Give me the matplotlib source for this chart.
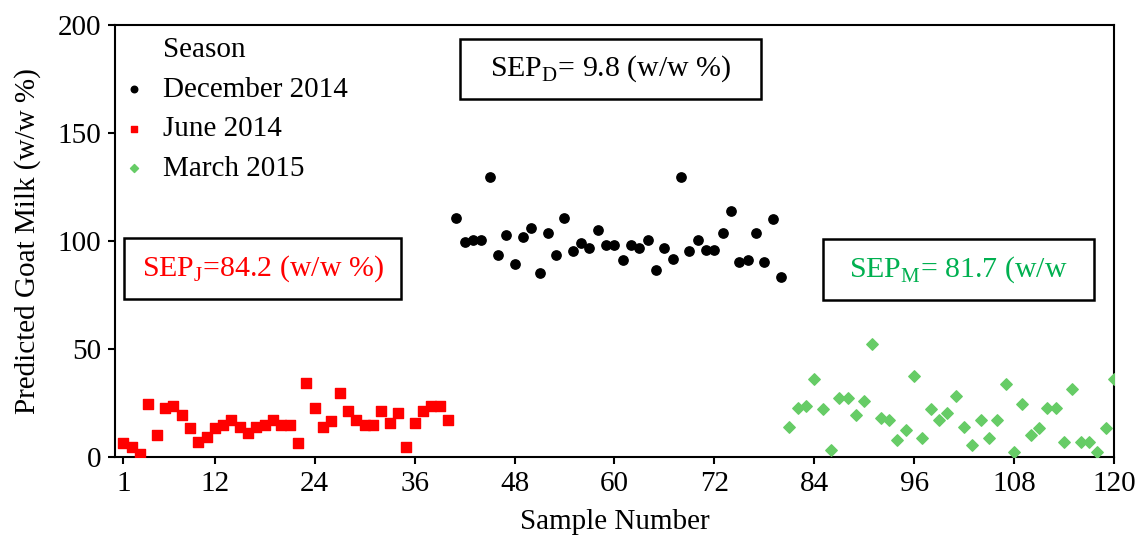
"""Predicted goat milk per sample, coloured by season, with SEP boxes."""

import matplotlib

matplotlib.use("Agg")
import matplotlib.pyplot as plt
from matplotlib.lines import Line2D
from matplotlib.patches import Rectangle

plt.rcParams["font.family"] = ["Liberation Serif", "DejaVu Serif"]
plt.rcParams["mathtext.fontset"] = "custom"
plt.rcParams["mathtext.rm"] = "Liberation Serif"

# June 2014 (samples 1-40)
june_x = list(range(1, 41))
june_y = [6.2, 4.6, 1.1, 24.2, 10.0, 22.7, 23.5, 19.5, 13.3, 7.0,
          9.3, 13.3, 14.7, 17.1, 13.9, 10.8, 13.9, 14.7, 17.1, 14.7,
          14.7, 6.2, 34.3, 22.7, 13.9, 16.4, 29.6, 21.0, 17.1, 14.7,
          14.7, 21.0, 15.6, 20.4, 4.6, 15.6, 21.0, 23.5, 23.5, 17.1]

# December 2014 (samples 41-80)
dec_x = list(range(41, 81))
dec_y = [110.6, 99.7, 100.5, 100.5, 129.4, 93.4, 102.8, 89.5, 102.0, 105.9,
         84.9, 103.7, 93.4, 110.6, 95.1, 98.9, 96.6, 105.1, 98.1, 98.1,
         91.1, 98.1, 96.6, 100.5, 86.4, 96.6, 91.8, 129.4, 95.1, 100.5,
         95.8, 95.8, 103.7, 113.9, 90.3, 91.1, 103.7, 90.3, 109.9, 83.3]

# March 2015 (samples 81-120)
mar_x = list(range(81, 121))
mar_y = [13.9, 22.7, 23.5, 35.8, 21.9, 3.1, 27.3, 27.3, 19.5, 25.8,
         52.3, 17.9, 17.1, 7.7, 12.5, 37.5, 8.7, 21.9, 17.1, 20.4,
         28.1, 13.9, 5.3, 17.1, 8.7, 17.1, 33.7, 2.3, 24.2, 10.0,
         13.1, 22.7, 22.7, 6.9, 31.2, 6.9, 6.9, 2.3, 13.3, 36.0]

x_ticks = [1, 12, 24, 36, 48, 60, 72, 84, 96, 108, 120]
y_ticks = [0, 50, 100, 150, 200]

FS = 21

fig = plt.figure(figsize=(11.46, 5.41), dpi=100)
ax = fig.add_axes([0.1003, 0.1558, 0.8717, 0.798])

ax.scatter(dec_x, dec_y, marker="o", s=45, color="black", label="December 2014", zorder=3)
ax.scatter(june_x, june_y, marker="s", s=42, color="#ff0000", label="June 2014", zorder=3)
ax.scatter(mar_x, mar_y, marker="D", s=34, color="#66cc66", label="March 2015", zorder=3)

ax.set_xlim(0, 120)
ax.set_ylim(0, 200)
ax.set_xticks(x_ticks)
ax.set_yticks(y_ticks)
ax.tick_params(direction="out", length=5, width=1.5, labelsize=FS, pad=5)
for sp in ax.spines.values():
    sp.set_linewidth(1.5)
ax.set_xlabel("Sample Number", fontsize=FS, labelpad=9)
ax.set_ylabel("Predicted Goat Milk (w/w %)", fontsize=FS, labelpad=12)

# legend with "Season" as a blank first row
handles, labels = ax.get_legend_handles_labels()
blank = Line2D([], [], linestyle="none", marker="none")
leg = ax.legend([blank] + handles, ["Season"] + labels, loc="upper left",
                bbox_to_anchor=(0.0, 1.0), frameon=False, fontsize=FS,
                handlelength=0.5, handletextpad=0.75, labelspacing=0.45,
                markerscale=0.7, borderaxespad=0.0)

# SEP boxes (axes fraction)
boxes = [
    ((0.345, 0.8286), 0.302, 0.139, "SEP$_\\mathrm{D}$= 9.8 (w/w %)", "black"),
    ((0.009, 0.3653), 0.2773, 0.1413, "SEP$_\\mathrm{J}$=84.2 (w/w %)", "#ff0000"),
    ((0.7087, 0.363), 0.2713, 0.1413, "SEP$_\\mathrm{M}$= 81.7 (w/w", "#00b050"),
]
for (bx, by), bw, bh, txt, col in boxes:
    ax.add_patch(Rectangle((bx, by), bw, bh, transform=ax.transAxes,
                           fill=True, fc="white", ec="black", lw=1.8, zorder=4))
    ax.text(bx + bw / 2, by + bh / 2, txt, transform=ax.transAxes,
            ha="center", va="center", fontsize=21.5, color=col, zorder=5)

fig.savefig("out.png", dpi=100)
plt.close(fig)
